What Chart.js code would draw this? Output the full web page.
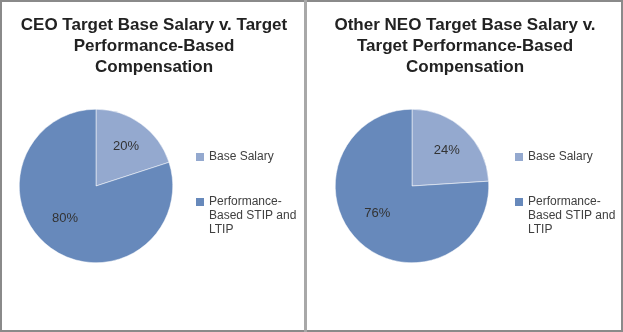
<!DOCTYPE html>
<html>
<head>
<meta charset="utf-8">
<script src="https://cdn.jsdelivr.net/npm/chart.js@4/dist/chart.umd.min.js"></script>
<style>
    html, body {
        margin: 0;
        padding: 0;
        background: #ffffff;
    }

    .frame {
        position: relative;
        width: 623px;
        height: 332px;
        box-sizing: border-box;
        border: 2px solid #8a8a8a;
        background: #ffffff;
    }

    .divider {
        position: absolute;
        left: 302px;
        top: -2px;
        width: 3px;
        height: 332px;
        background: #a8a8a8;
    }

    .panel {
        position: absolute;
        top: 0;
        height: 328px;
    }

    #panelLeft {
        left: 0;
        width: 302px;
    }

    #panelRight {
        left: 305px;
        width: 314px;
    }
</style>
</head>
<body>
<div class="frame">
    <div class="panel" id="panelLeft"><canvas id="ceoChart"></canvas></div>
    <div class="divider"></div>
    <div class="panel" id="panelRight"><canvas id="neoChart"></canvas></div>
</div>

<script>
    // Chart data
    const categories = ['Base Salary', 'Performance-Based STIP and LTIP'];

    const ceoValues = [20, 80];
    const neoValues = [24, 76];

    const ceoTitle = ['CEO Target Base Salary v. Target', 'Performance-Based', 'Compensation'];
    const neoTitle = ['Other NEO Target Base Salary v.', 'Target Performance-Based', 'Compensation'];

    const sliceColors = ['#94a9cf', '#6789bb'];

    const FONT = '"Liberation Sans", Arial, sans-serif';

    function wrapText(ctx, text, maxWidth) {
        // break after spaces and hyphens
        const tokens = text.match(/[^\s-]+-?\s*|\s+/g) || [text];
        const lines = [];
        let current = '';

        tokens.forEach((token) => {
            const next = current + token;
            if (current && ctx.measureText(next.trimEnd()).width > maxWidth) {
                lines.push(current.trimEnd());
                current = token;
            } else {
                current = next;
            }
        });

        if (current) lines.push(current.trimEnd());
        return lines;
    }

    // Multi-line title centred over the whole panel
    const panelTitle = {
        id: 'panelTitle',
        afterDraw(chart, args, opts) {
            const ctx = chart.ctx;
            const lines = opts.text || [];

            ctx.save();
            ctx.font = 'bold 17px ' + FONT;
            ctx.fillStyle = '#222222';
            ctx.textAlign = 'center';
            ctx.textBaseline = 'middle';

            lines.forEach((line, i) => {
                ctx.fillText(line, chart.width / 2 + 1, 23 + i * 21);
            });

            ctx.restore();
        },
    };

    // Percent labels inside the slices
    const sliceLabels = {
        id: 'sliceLabels',
        afterDatasetsDraw(chart) {
            const ctx = chart.ctx;
            const meta = chart.getDatasetMeta(0);
            const values = chart.data.datasets[0].data;
            const total = values.reduce((a, b) => a + b, 0);

            ctx.save();
            ctx.font = '13px ' + FONT;
            ctx.fillStyle = '#333333';
            ctx.textAlign = 'center';
            ctx.textBaseline = 'middle';

            meta.data.forEach((arc, i) => {
                const p = arc.getProps(['x', 'y', 'startAngle', 'endAngle', 'outerRadius']);
                const share = values[i] / total;
                const small = share < 0.5;
                const mid = (p.startAngle + p.endAngle) / 2 + (small ? 0.02 : 0.14);
                const k = small ? 0.65 : 0.58;
                const x = p.x + Math.cos(mid) * p.outerRadius * k;
                const y = p.y + Math.sin(mid) * p.outerRadius * k;
                ctx.fillText(Math.round(share * 100) + '%', x, y);
            });

            ctx.restore();
        },
    };

    // Legend to the right of the pie, with wrapped labels
    const sideLegend = {
        id: 'sideLegend',
        afterDraw(chart, args, opts) {
            const ctx = chart.ctx;
            const area = chart.chartArea;
            const colors = chart.data.datasets[0].backgroundColor;
            const left = area.right + (opts.gap || 23);
            const lineHeight = 14;
            const rows = [area.top + 48, area.top + 93];

            ctx.save();
            ctx.font = '12px ' + FONT;
            ctx.textBaseline = 'middle';
            ctx.textAlign = 'left';

            chart.data.labels.forEach((label, i) => {
                const lines = wrapText(ctx, label, 96);
                const y = rows[i];

                ctx.fillStyle = colors[i];
                ctx.fillRect(left, y - 4, 8, 8);

                ctx.fillStyle = '#404040';
                lines.forEach((line, j) => {
                    ctx.fillText(line, left + 13, y + j * lineHeight);
                });
            });

            ctx.restore();
        },
    };

    function makePie(canvasId, values, title, padding, legendGap) {
        const canvas = document.getElementById(canvasId);

        return new Chart(canvas, {
            type: 'pie',

            data: {
                labels: categories,
                datasets: [
                    {
                        data: values,
                        backgroundColor: sliceColors,
                        borderColor: '#ffffff',
                        borderWidth: 0.5,
                        hoverOffset: 0,
                    },
                ],
            },

            options: {
                responsive: true,
                maintainAspectRatio: false,
                animation: false,
                events: [],

                layout: {
                    padding: padding,
                },

                plugins: {
                    legend: {
                        display: false,
                    },

                    tooltip: {
                        enabled: false,
                    },

                    title: {
                        display: false,
                    },

                    panelTitle: {
                        text: title,
                    },

                    sideLegend: {
                        gap: legendGap,
                    },
                },
            },

            plugins: [sliceLabels, sideLegend, panelTitle],
        });
    }

    makePie('ceoChart', ceoValues, ceoTitle, { top: 107, left: 17, right: 131, bottom: 67 }, 23);
    makePie('neoChart', neoValues, neoTitle, { top: 107, left: 28, right: 132, bottom: 67 }, 26);
</script>
</body>
</html>
